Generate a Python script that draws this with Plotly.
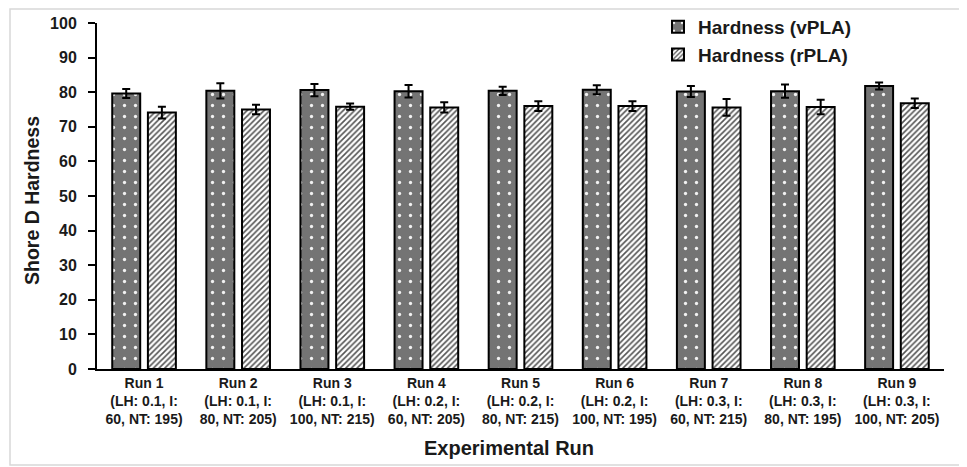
import plotly.graph_objects as go

runs = ["Run 1", "Run 2", "Run 3", "Run 4", "Run 5", "Run 6", "Run 7", "Run 8", "Run 9"]
run_params = [
    "(LH: 0.1, I:<br>60, NT: 195)",
    "(LH: 0.1, I:<br>80, NT: 205)",
    "(LH: 0.1, I:<br>100, NT: 215)",
    "(LH: 0.2, I:<br>60, NT: 205)",
    "(LH: 0.2, I:<br>80, NT: 215)",
    "(LH: 0.2, I:<br>100, NT: 195)",
    "(LH: 0.3, I:<br>60, NT: 215)",
    "(LH: 0.3, I:<br>80, NT: 195)",
    "(LH: 0.3, I:<br>100, NT: 205)",
]
hardness_vpla = [79.6, 80.4, 80.6, 80.3, 80.4, 80.7, 80.2, 80.3, 81.8]
err_vpla = [1.3, 2.2, 1.8, 1.8, 1.2, 1.3, 1.6, 1.9, 1.0]
hardness_rpla = [74.1, 75.0, 75.8, 75.6, 76.0, 76.0, 75.6, 75.7, 76.8]
err_rpla = [1.7, 1.4, 0.9, 1.5, 1.4, 1.4, 2.4, 2.1, 1.4]
y_ticks = [0, 10, 20, 30, 40, 50, 60, 70, 80, 90, 100]

labels = [f"{r}<br>{p}" for r, p in zip(runs, run_params)]
x = list(range(len(runs)))

FONT = "Liberation Sans, Arial, sans-serif"
# page has an 8px body margin; figure sized to fill the rest of the window
OFF = 8
W, H = 967 - OFF, 467 - OFF
L, R, T, B = 97 - OFF, 23, 23 - OFF, 98
PW, PH = W - L - R, H - T - B


def px_x(page_x):
    return (page_x - OFF - L) / PW


def px_y(page_y):
    return (H - B - (page_y - OFF)) / PH


fig = go.Figure()
fig.add_trace(go.Bar(
    x=x, y=hardness_vpla, name="Hardness (vPLA)",
    marker=dict(color="#777777", line=dict(color="black", width=2),
                pattern=dict(shape=".", fgcolor="#f2f2f2", bgcolor="#747474",
                             size=11, solidity=0.07, fillmode="replace")),
    error_y=dict(type="data", array=err_vpla, color="black", thickness=2, width=4),
))
fig.add_trace(go.Bar(
    x=x, y=hardness_rpla, name="Hardness (rPLA)",
    marker=dict(color="white", line=dict(color="black", width=2),
                pattern=dict(shape="/", fgcolor="#555555", bgcolor="white",
                             size=4, solidity=0.4, fillmode="replace")),
    error_y=dict(type="data", array=err_rpla, color="black", thickness=2, width=4),
))

fig.update_layout(
    width=W, height=H,
    margin=dict(l=L, r=R, t=T, b=B, autoexpand=False),
    paper_bgcolor="white", plot_bgcolor="white",
    barmode="group", bargap=0.242, bargroupgap=0.216,
    font=dict(family=FONT, color="#1a1a1a"),
    showlegend=True,
    legend=dict(x=650 / W, y=1.0, xref="container", yref="container",
                xanchor="left", yanchor="top",
                font=dict(family=FONT, size=19, color="#1a1a1a", weight="bold"),
                bgcolor="rgba(0,0,0,0)", traceorder="normal"),
    xaxis=dict(
        tickmode="array", tickvals=x, ticktext=labels,
        range=[-0.5, 8.5], showline=True, linecolor="black", linewidth=2,
        ticks="", showgrid=False, zeroline=False, automargin=False,
        tickfont=dict(family=FONT, size=14, color="#1a1a1a", weight="bold"),
    ),
    yaxis=dict(
        range=[0, 100], tickmode="array", tickvals=y_ticks,
        showline=True, linecolor="black", linewidth=2,
        ticks="outside", ticklen=7, tickwidth=2, tickcolor="black",
        showgrid=False, zeroline=False, ticklabelstandoff=8, automargin=False,
        tickfont=dict(family=FONT, size=16, color="#1a1a1a", weight="bold"),
    ),
    annotations=[
        dict(text="Experimental Run", xref="paper", yref="paper",
             x=px_x(509), y=px_y(448), xanchor="center", yanchor="middle",
             showarrow=False,
             font=dict(family=FONT, size=20, color="#1a1a1a", weight="bold")),
        dict(text="Shore D Hardness", xref="paper", yref="paper",
             x=px_x(32), y=px_y(201), xanchor="center", yanchor="middle",
             showarrow=False, textangle=-90,
             font=dict(family=FONT, size=19.5, color="#1a1a1a", weight="bold")),
    ],
    shapes=[
        dict(type="rect", xref="paper", yref="paper",
             x0=px_x(10), x1=px_x(965),
             y0=px_y(465), y1=px_y(9),
             line=dict(color="#d8d8d8", width=1.5), fillcolor="rgba(0,0,0,0)", layer="below"),
    ],
)

fig.write_html("out.html")
